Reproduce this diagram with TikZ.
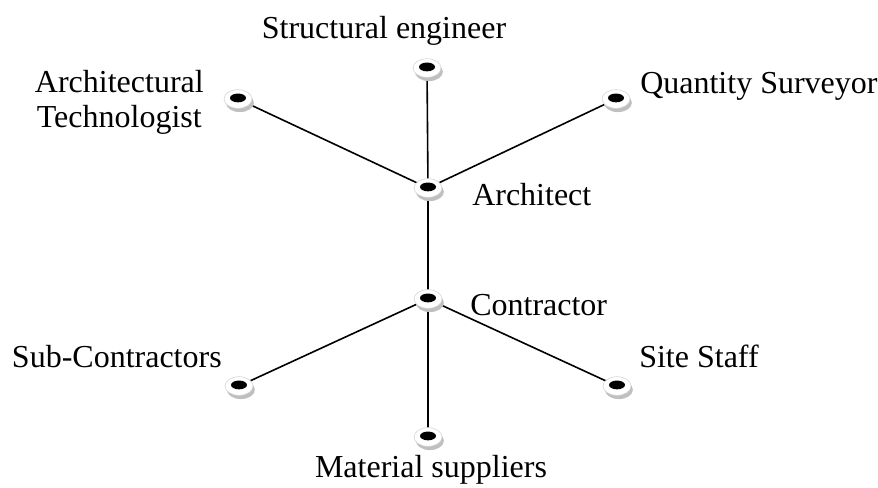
\documentclass[tikz,border=0pt]{standalone}
\usepackage{fontspec}
\setmainfont{Liberation Serif}
\usetikzlibrary{shapes.geometric,shadows}

\tikzset{
  hub/.style={ellipse, draw=gray!35, fill=white, inner sep=0pt,
    minimum width=21pt, minimum height=14pt,
    drop shadow={shadow xshift=1.4pt, shadow yshift=-2.8pt, fill=gray!50, opacity=1},
    path picture={\fill[black] ([yshift=0.8pt]path picture bounding box.center) ellipse (6pt and 3.3pt);}},
  link/.style={line width=1.2pt},
  lbl/.style={font=\fontsize{24}{26}\selectfont, inner sep=0pt}
}

\begin{document}
\begin{tikzpicture}[x=0.75pt,y=-0.75pt]
\useasboundingbox (0,0) rectangle (878,487);

% positions
\coordinate (se) at (427,68);
\coordinate (at) at (238,99);
\coordinate (qs) at (616,99);
\coordinate (ar) at (428,188);
\coordinate (co) at (428,299);
\coordinate (sc) at (239,386);
\coordinate (ss) at (617,386);
\coordinate (ms) at (428,437);

% links
\draw[link] (se) -- (ar);
\draw[link] (at) -- (ar);
\draw[link] (qs) -- (ar);
\draw[link] (ar) -- (co);
\draw[link] (co) -- (sc);
\draw[link] (co) -- (ss);
\draw[link] (co) -- (ms);

% hubs
\foreach \p in {se,at,qs,ar,co,sc,ss,ms}
  \node[hub] (h-\p) at (\p) {};

% labels
\node[lbl, anchor=base] (t-se) at (384,38) {Structural engineer};
\node[lbl, anchor=base east] (t-at1) at (204,92) {Architectural};
\node[lbl, anchor=base east] (t-at2) at (202,127) {Technologist};
\node[lbl, anchor=base west] (t-qs) at (640,93) {Quantity Surveyor};
\node[lbl, anchor=base west] (t-ar) at (472,205) {Architect};
\node[lbl, anchor=base west] (t-co) at (470,315) {Contractor};
\node[lbl, anchor=base east] (t-sc) at (222,367) {Sub-Contractors};
\node[lbl, anchor=base west] (t-ss) at (639,367) {Site Staff};
\node[lbl, anchor=base] (t-ms) at (431,477) {Material suppliers};
\end{tikzpicture}
\end{document}
